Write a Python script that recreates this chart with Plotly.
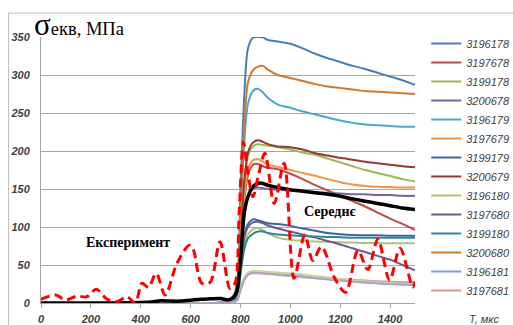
import plotly.graph_objects as go

# ---------------- data ----------------
T_MODEL = [0, 760, 785, 800, 815, 830, 850, 870, 890, 910, 950, 1000, 1050,
           1100, 1150, 1200, 1250, 1300, 1350, 1400, 1450, 1500]

S_3196178 = [0, 4, 25, 150, 270, 335, 349, 350, 349.5, 346, 344, 341, 335, 328, 322, 317, 312, 308, 303, 298, 293, 287]
S_3197678 = [0, 3, 12, 72, 135, 168, 182, 183, 180, 178, 176, 170, 163, 155, 148, 141, 134, 127, 119, 111, 104, 96]
S_3199178 = [0, 3, 14, 82, 155, 193, 206, 209, 208, 207, 205, 202, 198, 195, 190, 185, 180, 175, 171, 167, 163, 160]
S_3200678 = [0, 2, 10, 60, 112, 140, 150, 152, 151, 150, 149, 148, 147, 146, 145, 144, 143, 143, 142, 142, 141, 141]
S_3196179 = [0, 4, 18, 110, 210, 262, 279, 282, 277, 270, 261, 257, 252, 248, 244, 240, 237, 235, 234, 233, 232, 232]
S_3197679 = [0, 3, 12, 75, 140, 175, 188, 189, 186, 182, 179, 175, 171, 167.5, 163, 159, 156, 154, 153, 152.5, 152, 152]
S_3199179 = [0, 2, 8, 50, 88, 104, 110, 109, 107, 105, 104, 101.5, 98, 95, 92, 90.5, 89.5, 89, 89, 88.5, 88.5, 88.5]
S_3200679 = [0, 3, 14, 85, 160, 198, 211, 214, 212, 209, 206, 205, 202, 197, 194, 191, 188.5, 186, 184, 182, 180, 178.5]
S_3196180 = [0, 2, 7, 40, 75, 90, 97, 98.5, 96, 92, 86, 83, 82, 81, 80.5, 80, 79.5, 79, 79, 78.5, 78.5, 78.5]
S_3197680 = [0, 2, 8, 48, 85, 100, 106, 107, 105, 102, 98, 94, 90, 86, 81.5, 77, 72, 67, 62, 57, 50, 43]
S_3199180 = [0, 2, 6, 38, 70, 85, 91, 94, 94, 92, 90, 89, 88, 87.5, 87, 86.5, 86, 86, 86, 86, 86, 86]
S_3200680 = [0, 4, 20, 120, 230, 290, 306, 311, 312, 307, 300, 296, 292, 288, 285, 283, 281, 279, 278, 277, 276, 275]
S_3196181 = [0, 1, 3, 18, 32, 39, 41, 41, 40.5, 40, 38.5, 37, 35, 33, 31.5, 30, 28.5, 27, 26, 25, 24.5, 23.7]
S_3197681 = [0, 1, 3, 17, 31, 38, 40, 40, 39.5, 39, 38, 36.5, 35, 34, 33, 31.5, 30.5, 29.5, 28.5, 28, 27.5, 27]
S_3199181 = [0, 1, 3, 18, 33, 40, 42, 42, 41.5, 41, 40, 39, 37.5, 35.5, 33.5, 31.5, 30, 28.5, 27.5, 26.5, 25.5, 25]
S_3200681 = [0, 1, 3, 17, 30, 37, 39, 39, 38.5, 38, 37, 35.5, 34, 32.5, 31, 29.5, 28, 27, 26, 25, 24.5, 24]

SERIES_NAMES = ["3196178", "3197678", "3199178", "3200678",
                "3196179", "3197679", "3199179", "3200679",
                "3196180", "3197680", "3199180", "3200680",
                "3196181", "3197681", "3199181", "3200681"]
SERIES_VALUES = [S_3196178, S_3197678, S_3199178, S_3200678,
                 S_3196179, S_3197679, S_3199179, S_3200679,
                 S_3196180, S_3197680, S_3199180, S_3200680,
                 S_3196181, S_3197681, S_3199181, S_3200681]
SERIES_COLORS = ["#4A7EBB", "#BE4B48", "#98B954", "#7D60A0",
                 "#46AAC5", "#F69240", "#3A679C", "#953735",
                 "#A9C673", "#71588F", "#31859C", "#D1782F",
                 "#7F9FD3", "#D99694", "#C3D69B", "#B3A2C7"]
SHOW_IN_LEGEND = [True] * 14 + [False, False]

T_AVG = [0, 100, 200, 300, 400, 450, 480, 520, 560, 600, 640, 680, 720, 750, 770, 785,
         800, 815, 830, 850, 878, 910, 950, 1000, 1050, 1100, 1150, 1200, 1250, 1300,
         1350, 1400, 1450, 1500]
V_AVG = [0, 0, 0, 0, 0.5, 1.5, 3, 2.5, 2.5, 3.5, 5, 5.5, 6, 4, 7, 15,
         57, 118, 140, 153, 158, 155, 152, 149, 147, 145, 143, 140.5, 137, 134,
         131, 128, 125, 123]

T_EXP = [0, 58, 98, 145, 182, 222, 265, 305, 345, 378, 405, 431, 462, 498, 545, 595,
         611, 645, 678, 718, 758, 778, 795, 812, 830, 850, 870, 898, 935, 975, 1015,
         1058, 1090, 1125, 1178, 1222, 1271, 1311, 1351, 1398, 1440, 1491, 1500]
V_EXP = [4.8, 10.5, 4, 9, 8, 18, 5, 2, 8, 0.5, 26, 20.6, 39, 10.5, 52, 76,
         70, 26, 27, 80.7, 19, 26, 120, 212, 170, 140, 165, 197, 131, 184, 32.5,
         89.5, 56, 74, 32.5, 14, 69, 44, 84, 30, 72, 21, 28]

X_TICKS = [0, 200, 400, 600, 800, 1000, 1200, 1400]
Y_TICKS = [0, 50, 100, 150, 200, 250, 300, 350]

# ---------------- figure ----------------
fig = go.Figure()

for name, vals, col, show in zip(SERIES_NAMES, SERIES_VALUES, SERIES_COLORS, SHOW_IN_LEGEND):
    fig.add_trace(go.Scatter(
        x=T_MODEL, y=vals, name=name, mode="lines",
        line=dict(color=col, width=2, shape="spline", smoothing=0.8),
        showlegend=show))

fig.add_trace(go.Scatter(
    x=T_AVG, y=V_AVG, name="Середнє", mode="lines",
    line=dict(color="#000000", width=3.5, shape="spline", smoothing=0.8),
    showlegend=False))

fig.add_trace(go.Scatter(
    x=T_EXP, y=V_EXP, name="Експеримент", mode="lines",
    line=dict(color="#FF0000", width=3, dash="9px,5px", shape="spline", smoothing=0.9),
    showlegend=False))

tickfont = dict(family="Liberation Sans", size=11, color="#404040", style="italic", weight="bold")

fig.update_layout(
    width=513, height=325,
    margin=dict(l=40.5, r=97.5, t=37, b=22, autoexpand=False),
    paper_bgcolor="white", plot_bgcolor="white",
    xaxis=dict(range=[0, 1500], tickvals=X_TICKS, showgrid=False, zeroline=False,
               showline=True, linecolor="#A6A6A6", linewidth=1,
               ticks="outside", ticklen=4, tickcolor="#A6A6A6",
               tickfont=tickfont, ticklabelstandoff=2),
    yaxis=dict(range=[0, 350], tickvals=Y_TICKS, showgrid=True, gridcolor="#A6A6A6",
               gridwidth=1, zeroline=False, showline=True, linecolor="#A6A6A6",
               linewidth=1, ticks="", tickfont=tickfont, ticklabelstandoff=8),
    legend=dict(x=1.03, y=1.03, xanchor="left", yanchor="top", maxheight=320,
                font=dict(family="Liberation Sans", size=11, color="#404040", style="italic"),
                bgcolor="rgba(0,0,0,0)", tracegroupgap=0, itemwidth=30),
    showlegend=True,
)

fig.add_shape(type="rect", xref="paper", yref="paper",
              x0=-0.0867, x1=1.3, y0=-0.2, y1=1.090,
              line=dict(color="#BFBFBF", width=1), fillcolor="rgba(0,0,0,0)", layer="below")

fig.add_annotation(xref="paper", yref="paper", x=-0.025, y=0.975, xanchor="left", yanchor="bottom",
                   text="<span style='font-size:31px'>σ</span>екв, МПа", showarrow=False,
                   font=dict(family="Liberation Serif", size=18.5, color="#000000"))
fig.add_annotation(x=350, y=80, text="<b>Експеримент</b>", showarrow=False,
                   font=dict(family="Liberation Serif", size=14, color="#000000"))
fig.add_annotation(x=1160, y=120, text="<b>Середнє</b>", showarrow=False,
                   font=dict(family="Liberation Serif", size=14, color="#000000"))
fig.add_annotation(xref="paper", yref="paper", x=1.14, y=-0.03, xanchor="left", yanchor="top",
                   text="T, мкс", showarrow=False,
                   font=dict(family="Liberation Sans", size=11, color="#404040", style="italic"))

fig.write_html("out.html")
